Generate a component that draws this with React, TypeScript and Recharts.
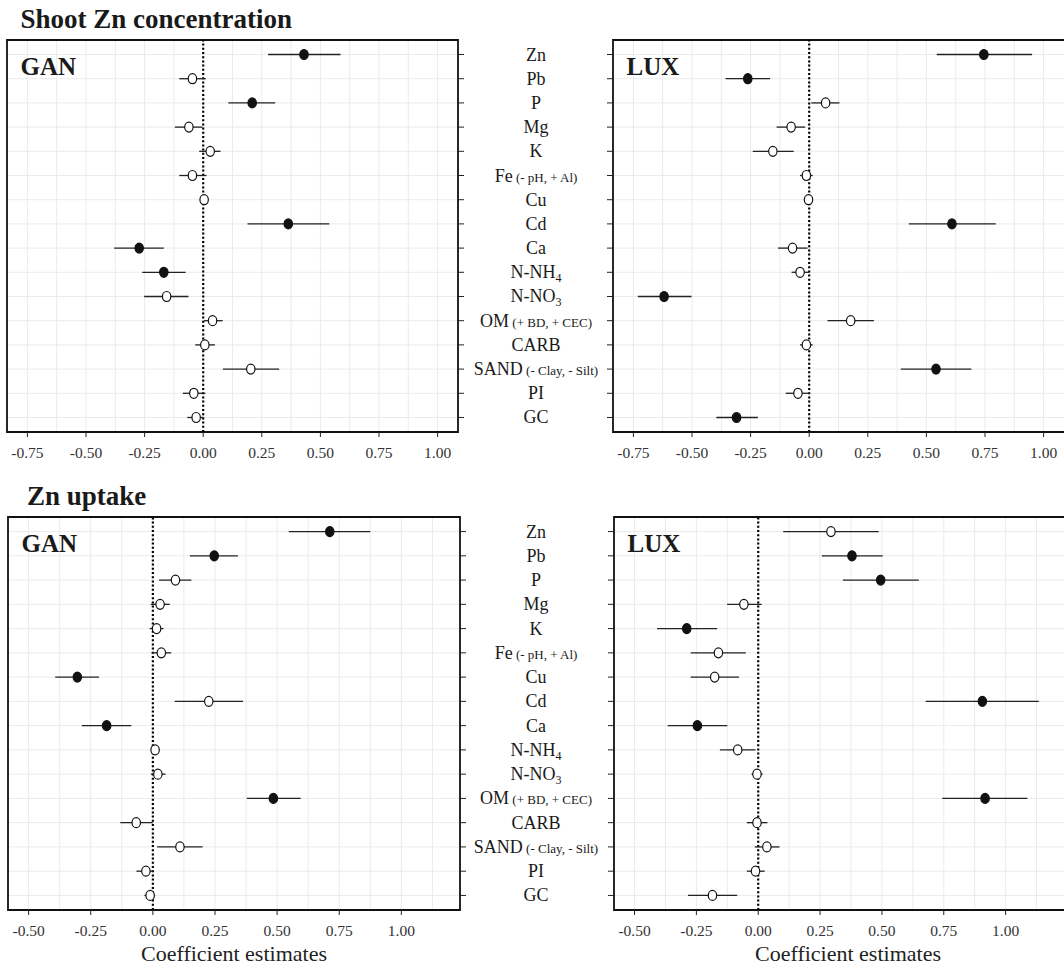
import React from 'react'
import { ScatterChart, Scatter, XAxis, YAxis, CartesianGrid, ErrorBar, ReferenceLine, ReferenceArea } from 'recharts'

const SERIF = '"Liberation Serif", "Times New Roman", serif'

// row labels, top to bottom
const predictors = ['Zn', 'Pb', 'P', 'Mg', 'K', 'Fe', 'Cu', 'Cd', 'Ca', 'N-NH', 'N-NO', 'OM', 'CARB', 'SAND', 'PI', 'GC']
const predictorSubs = ['', '', '', '', '', '', '', '', '', '4', '3', '', '', '', '', '']
const predictorNotes = ['', '', '', '', '', '(- pH, + Al)', '', '', '', '', '', '(+ BD, + CEC)', '', '(- Clay, - Silt)', '', '']

// shoot Zn concentration - GAN
const ganConcEst = [0.43, -0.046, 0.209, -0.061, 0.03, -0.046, 0.004, 0.363, -0.273, -0.168, -0.156, 0.04, 0.007, 0.203, -0.04, -0.03]
const ganConcLow = [0.277, -0.102, 0.107, -0.121, -0.017, -0.102, -0.01, 0.189, -0.38, -0.26, -0.252, 0.003, -0.034, 0.084, -0.087, -0.068]
const ganConcHigh = [0.586, 0.011, 0.307, -0.003, 0.074, 0.014, 0.021, 0.538, -0.168, -0.075, -0.063, 0.083, 0.05, 0.324, 0.009, 0.001]
const ganConcSig = [1, 0, 1, 0, 0, 0, 0, 1, 1, 1, 0, 0, 0, 0, 0, 0]

// shoot Zn concentration - LUX
const luxConcEst = [0.745, -0.262, 0.07, -0.077, -0.155, -0.012, -0.003, 0.609, -0.071, -0.039, -0.619, 0.177, -0.012, 0.541, -0.048, -0.31]
const luxConcLow = [0.544, -0.357, 0.009, -0.139, -0.241, -0.039, -0.017, 0.425, -0.133, -0.075, -0.731, 0.078, -0.039, 0.391, -0.1, -0.396]
const luxConcHigh = [0.951, -0.167, 0.129, -0.017, -0.066, 0.015, 0.012, 0.796, -0.007, 0.0, -0.502, 0.276, 0.015, 0.692, 0.0, -0.219]
const luxConcSig = [1, 1, 0, 0, 0, 0, 0, 1, 0, 0, 1, 0, 0, 1, 0, 1]

// Zn uptake - GAN
const ganUptEst = [0.712, 0.247, 0.091, 0.029, 0.015, 0.034, -0.304, 0.225, -0.186, 0.009, 0.02, 0.485, -0.067, 0.109, -0.028, -0.011]
const ganUptLow = [0.547, 0.149, 0.025, -0.008, -0.013, -0.005, -0.393, 0.088, -0.286, -0.005, -0.008, 0.378, -0.131, 0.017, -0.066, -0.034]
const ganUptHigh = [0.875, 0.342, 0.155, 0.068, 0.043, 0.074, -0.217, 0.363, -0.087, 0.025, 0.051, 0.595, 0.0, 0.2, 0.001, 0.009]
const ganUptSig = [1, 1, 0, 0, 0, 0, 1, 0, 1, 0, 0, 1, 0, 0, 0, 0]

// Zn uptake - LUX
const luxUptEst = [0.294, 0.379, 0.495, -0.058, -0.289, -0.161, -0.176, 0.906, -0.246, -0.083, -0.005, 0.917, -0.005, 0.035, -0.011, -0.185]
const luxUptLow = [0.101, 0.257, 0.342, -0.126, -0.409, -0.273, -0.273, 0.677, -0.366, -0.155, -0.027, 0.744, -0.046, -0.014, -0.046, -0.284]
const luxUptHigh = [0.487, 0.503, 0.649, 0.014, -0.166, -0.05, -0.078, 1.134, -0.125, -0.011, 0.018, 1.088, 0.037, 0.086, 0.026, -0.085]
const luxUptSig = [0, 1, 1, 0, 1, 0, 0, 1, 1, 0, 0, 1, 0, 0, 0, 0]

const concTicks = [-0.75, -0.5, -0.25, 0, 0.25, 0.5, 0.75, 1]
const concMinor = [-0.625, -0.375, -0.125, 0.125, 0.375, 0.625, 0.875]
const concDomain = [-0.837, 1.087]
const uptTicks = [-0.5, -0.25, 0, 0.25, 0.5, 0.75, 1]
const uptMinor = [-0.375, -0.125, 0.125, 0.375, 0.625, 0.875, 1.125]
const uptDomain = [-0.583, 1.236]
const rowTicks = predictors.map((_, i) => i + 1)

function buildRows(est: number[], low: number[], high: number[], sig: number[]) {
  return est.map((e, i) => ({
    row: i + 1,
    est: e,
    err: [e - low[i], high[i] - e],
    sig: sig[i] === 1,
  }))
}

const Dot = (props: any) => {
  const { cx, cy, payload } = props
  if (cx == null || cy == null) return <g />
  return (
    <ellipse cx={cx} cy={cy} rx={4.2} ry={5} fill={payload.sig ? '#111' : '#fff'} stroke="#111" strokeWidth={1.2} />
  )
}

const EmptyTick = () => <g />

// labels sit in the gap between the two columns
const LABEL_X = 86

const PredictorTick = (props: any) => {
  const { y, payload } = props
  const i = payload.value - 1
  return (
    <text x={LABEL_X} y={y + 6} textAnchor="middle" fontFamily={SERIF} fontSize={18} fill="#1a1a1a">
      {predictors[i]}
      {predictorSubs[i] && (
        <tspan fontSize={12} dy={4}>
          {predictorSubs[i]}
        </tspan>
      )}
      {predictorNotes[i] && <tspan fontSize={13}>{'\u00a0' + predictorNotes[i]}</tspan>}
    </text>
  )
}

interface PanelProps {
  data: ReturnType<typeof buildRows>
  domain: number[]
  ticks: number[]
  minor: number[]
  labelSide: 'left' | 'right'
  width: number
  height: number
  left: number
  top: number
  marginLeft: number
  axisWidth: number
  xAxisHeight: number
  xLabel?: boolean
  xLabelShift?: number
}

function Panel(p: PanelProps) {
  // the right-hand panels run off the page edge, so their frame is left open there
  const frameRight = p.labelSide === 'left' ? p.domain[1] + 0.1 : p.domain[1]
  return (
    <div style={{ position: 'absolute', left: p.left, top: p.top }}>
      <ScatterChart width={p.width} height={p.height} margin={{ top: 40, right: 0, bottom: 0, left: p.marginLeft }}>
        <CartesianGrid
          stroke="#ebebeb"
          strokeWidth={1}
          verticalValues={[...p.minor, ...p.ticks]}
        />
        <XAxis
          type="number"
          dataKey="est"
          domain={p.domain}
          ticks={p.ticks}
          interval={0}
          allowDataOverflow
          axisLine={false}
          tickLine={{ stroke: '#222', strokeWidth: 1 }}
          tickSize={5}
          tickMargin={10}
          height={p.xAxisHeight}
          tickFormatter={(v: number) => v.toFixed(2)}
          tick={{ fill: '#333', fontSize: 15.5, fontFamily: SERIF }}
          label={
            p.xLabel
              ? {
                  value: 'Coefficient estimates',
                  position: 'insideBottom',
                  offset: 5,
                  dx: p.xLabelShift || 0,
                  fontSize: 22,
                  fill: '#222',
                  fontFamily: SERIF,
                }
              : undefined
          }
        />
        <YAxis
          type="number"
          dataKey="row"
          orientation={p.labelSide}
          domain={[0.4, 16.6]}
          ticks={rowTicks}
          interval={0}
          reversed
          allowDataOverflow
          axisLine={false}
          tickLine={{ stroke: '#222', strokeWidth: 1 }}
          tickSize={6}
          width={p.axisWidth}
          tick={p.labelSide === 'left' ? PredictorTick : EmptyTick}
        />
        <ReferenceLine x={0} stroke="#000" strokeWidth={2.2} strokeDasharray="2 2.2" />
        <Scatter data={p.data} shape={Dot} isAnimationActive={false}>
          <ErrorBar dataKey="err" direction="x" width={0} stroke="#222" strokeWidth={1.3} isAnimationActive={false} />
        </Scatter>
        <ReferenceArea
          x1={p.domain[0]}
          x2={frameRight}
          y1={0.4}
          y2={16.6}
          fill="none"
          stroke="#111"
          strokeWidth={1.8}
          ifOverflow="visible"
        />
      </ScatterChart>
    </div>
  )
}

export default function App() {
  const titleStyle = { fontFamily: SERIF, fontWeight: 700, fill: '#1a1a1a' }
  return (
    <div
      style={{ position: 'absolute', left: 0, top: 0, width: 1064, height: 966, background: '#fff', overflow: 'hidden' }}
    >
      <Panel
        data={buildRows(ganConcEst, ganConcLow, ganConcHigh, ganConcSig)}
        domain={concDomain}
        ticks={concTicks}
        minor={concMinor}
        labelSide="right"
        width={470}
        height={470}
        left={0}
        top={0}
        marginLeft={7}
        axisWidth={12}
        xAxisHeight={38}
      />
      <Panel
        data={buildRows(luxConcEst, luxConcLow, luxConcHigh, luxConcSig)}
        domain={concDomain}
        ticks={concTicks}
        minor={concMinor}
        labelSide="left"
        width={614}
        height={470}
        left={450}
        top={0}
        marginLeft={0}
        axisWidth={163}
        xAxisHeight={38}
      />
      <Panel
        data={buildRows(ganUptEst, ganUptLow, ganUptHigh, ganUptSig)}
        domain={uptDomain}
        ticks={uptTicks}
        minor={uptMinor}
        labelSide="right"
        width={472}
        height={489}
        left={0}
        top={477}
        marginLeft={8}
        axisWidth={12}
        xAxisHeight={56}
        xLabel
      />
      <Panel
        data={buildRows(luxUptEst, luxUptLow, luxUptHigh, luxUptSig)}
        domain={uptDomain}
        ticks={uptTicks}
        minor={uptMinor}
        labelSide="left"
        width={614}
        height={489}
        left={450}
        top={477}
        marginLeft={0}
        axisWidth={164}
        xAxisHeight={56}
        xLabel
        xLabelShift={9}
      />
      <svg width={1064} height={966} style={{ position: 'absolute', left: 0, top: 0, pointerEvents: 'none' }}>
        <text x={20.5} y={28} fontSize={27} {...titleStyle}>Shoot Zn concentration</text>
        <text x={27} y={505} fontSize={27} {...titleStyle}>Zn uptake</text>
        <text x={20.5} y={75} fontSize={25} {...titleStyle}>GAN</text>
        <text x={626.5} y={75} fontSize={25} {...titleStyle}>LUX</text>
        <text x={21.5} y={552} fontSize={25} {...titleStyle}>GAN</text>
        <text x={627.5} y={552} fontSize={25} {...titleStyle}>LUX</text>
      </svg>
    </div>
  )
}
